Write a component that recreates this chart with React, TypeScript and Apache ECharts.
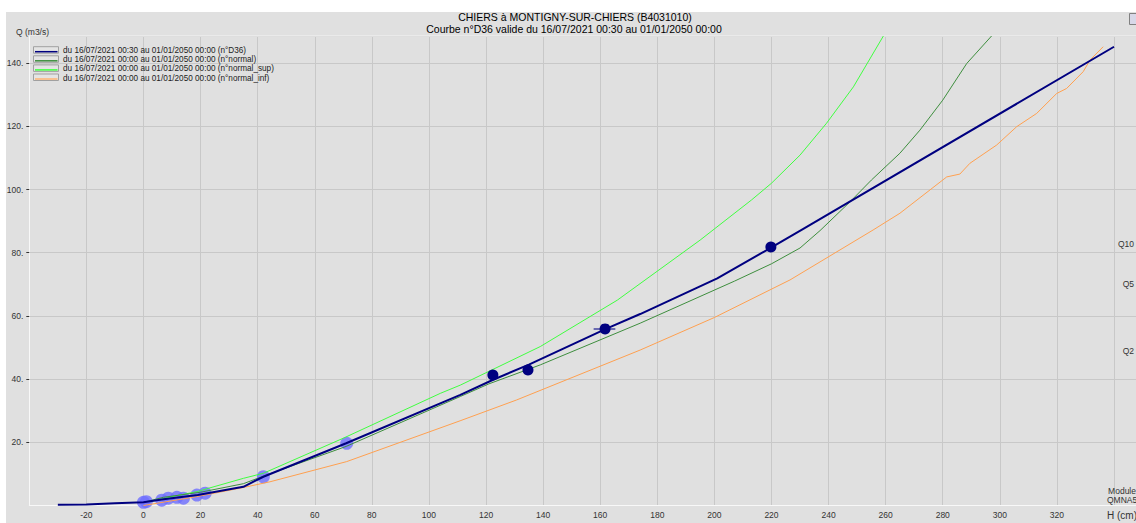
import React, { useEffect, useRef } from "react";
import * as echarts from "echarts";

// Rating curve n°D36 (navy)
const H_D36 = [-30, -20, -10, 0, 7, 19, 35, 42, 71, 111, 122.5, 135, 162, 174, 201, 220, 231, 340];
const Q_D36 = [0.2, 0.3, 0.7, 1.0, 2.0, 3.3, 5.9, 9.1, 19.7, 35.0, 39.8, 44.6, 55.9, 60.6, 71.9, 81.7, 87.5, 145.2];

// normal (dark green)
const H_NORMAL = [0, 7, 20, 35, 42, 71, 111, 121, 139, 174, 207, 220, 230, 237, 247.5, 255, 265, 272, 280, 288.4, 297.1];
const Q_NORMAL = [1.0, 2.6, 4.2, 6.9, 9.3, 18.7, 34.5, 38.5, 44.5, 57.7, 71.0, 76.5, 81.5, 87.0, 96.1, 103.0, 111.5, 118.8, 128.3, 139.9, 148.6];

// normal_sup (lime)
const H_SUP = [2.3, 10, 18.7, 35, 42, 70, 104, 111, 139, 166, 195, 213, 220, 230, 239.3, 248.7, 259.2];
const Q_SUP = [1.2, 2.8, 4.4, 8.6, 10.2, 21.3, 35.5, 38.1, 50.3, 65.0, 84.0, 96.7, 102.0, 110.9, 121.0, 132.5, 148.6];

// normal_inf (orange)
const H_INF = [0, 18.7, 35, 44.3, 71.2, 110.9, 130.7, 174, 200, 226.5, 255.6, 265, 281.4, 286, 289.5, 298.9, 305.9, 312.9, 319.9, 323.4, 329.2, 331.6, 336.2];
const Q_INF = [0.0, 2.8, 5.7, 7.5, 13.9, 26.8, 33.4, 49.2, 59.5, 71.4, 87.2, 92.5, 104.0, 104.9, 108.3, 114.1, 119.9, 124.1, 130.4, 132.0, 137.3, 141.0, 145.2];

// gaugings (light blue)
const H_GAUGE = [0, 1, 6.4, 8.7, 11.7, 14, 18.7, 21.6, 42, 71.2];
const Q_GAUGE = [1.0, 1.2, 1.7, 2.3, 2.6, 2.3, 3.3, 3.9, 9.1, 19.7];

// gaugings (navy)
const H_GAUGE2 = [122.4, 134.7, 161.7, 219.8];
const Q_GAUGE2 = [41.3, 42.9, 55.9, 81.8];

// uncertainty bar on one gauging
const H_BAR = [157.7, 165.3];
const Q_BAR = [55.9, 55.9];

const LEGEND_LABELS = [
  "du 16/07/2021 00:30 au 01/01/2050 00:00 (n°D36)",
  "du 16/07/2021 00:00 au 01/01/2050 00:00 (n°normal)",
  "du 16/07/2021 00:00 au 01/01/2050 00:00 (n°normal_sup)",
  "du 16/07/2021 00:00 au 01/01/2050 00:00 (n°normal_inf)",
];
const LEGEND_COLORS = ["#000080", "#3e8e3e", "#40ff40", "#f8c090"];

const TITLE1 = "CHIERS à MONTIGNY-SUR-CHIERS (B4031010)";
const TITLE2 = "Courbe n°D36 valide du 16/07/2021 00:30 au 01/01/2050 00:00";

const RIGHT_LABELS = ["Q10", "Q5", "Q2"];
const RIGHT_LABEL_Y = [244, 283.5, 351];

const zip = (a: number[], b: number[]) => a.map((v, i) => [v, b[i]]);

const FONT = "'Liberation Sans', Arial, sans-serif";

export default function App() {
  const ref = useRef<HTMLDivElement>(null);
  useEffect(() => {
    if (!ref.current) return;
    const chart = echarts.init(ref.current, null, { renderer: "svg" });

    const legendGraphics: any[] = [];
    LEGEND_LABELS.forEach((label, i) => {
      const cy = 50.7 + i * 9.1;
      legendGraphics.push({
        type: "rect",
        shape: { x: 33.5, y: cy - 4, width: 25, height: 6.5 },
        style: { fill: "#e4e4e4", stroke: "#a0a0a0", lineWidth: 1 },
        z: 10,
      });
      legendGraphics.push({
        type: "line",
        shape: { x1: 35, y1: cy + 1, x2: 57.5, y2: cy + 1 },
        style: { stroke: LEGEND_COLORS[i], lineWidth: i === 3 ? 2 : 1.5 },
        z: 11,
      });
      legendGraphics.push({
        type: "text",
        x: 63,
        y: cy,
        style: {
          text: label,
          font: `8.2px ${FONT}`,
          fill: "#222",
          textVerticalAlign: "middle",
        },
        z: 11,
      });
    });

    const option: any = {
      animation: false,
      backgroundColor: "#e0e0e0",
      grid: { left: 29.3, right: 0, top: 36, bottom: 17.5, containLabel: false },
      xAxis: {
        type: "value",
        min: -40,
        max: 347.7,
        interval: 20,
        axisLine: { show: true, onZero: false, lineStyle: { color: "#f8f8f8", width: 1 } },
        axisTick: { show: false },
        axisLabel: {
          margin: 5,
          fontSize: 8.5,
          fontFamily: FONT,
          color: "#333",
          showMinLabel: false,
          showMaxLabel: false,
          formatter: (v: number) => {
            const r = Math.round(v);
            if (Math.abs(v - r) > 1e-6) return "";
            if (r <= -40 || r >= 340) return "";
            return String(r);
          },
        },
        splitLine: { show: true, lineStyle: { color: "#c8c8c8", width: 1 } },
      },
      yAxis: {
        type: "value",
        min: 0,
        max: 148.6,
        interval: 20,
        axisLine: { show: true, onZero: false, lineStyle: { color: "#f8f8f8", width: 1 } },
        axisTick: { show: true, length: 3, lineStyle: { color: "#333" } },
        axisLabel: {
          margin: 6,
          fontSize: 8.5,
          fontFamily: FONT,
          color: "#333",
          showMinLabel: false,
          showMaxLabel: false,
          formatter: (v: number) => {
            const r = Math.round(v);
            if (Math.abs(v - r) > 1e-6 || r <= 0 || r % 20 !== 0) return "";
            return r + ".";
          },
        },
        splitLine: { show: true, lineStyle: { color: "#c8c8c8", width: 1 } },
      },
      graphic: [
        { type: "rect", shape: { x: 0, y: 0, width: 1136, height: 12 }, style: { fill: "#ffffff" }, z: 1 },
        { type: "rect", shape: { x: 0, y: 0, width: 6, height: 523 }, style: { fill: "#ffffff" }, z: 1 },
        { type: "line", shape: { x1: 29.3, y1: 36, x2: 1136, y2: 36 }, style: { stroke: "#f4f4f4", lineWidth: 1 }, z: 1 },
        {
          type: "text", x: 575, y: 17, z: 5,
          style: { text: TITLE1, font: `10.5px ${FONT}`, fill: "#000", textAlign: "center", textVerticalAlign: "middle" },
        },
        {
          type: "text", x: 574, y: 29.3, z: 5,
          style: { text: TITLE2, font: `10.5px ${FONT}`, fill: "#000", textAlign: "center", textVerticalAlign: "middle" },
        },
        {
          type: "text", x: 16, y: 31.5, z: 5,
          style: { text: "Q (m3/s)", font: `8.5px ${FONT}`, fill: "#333", textVerticalAlign: "middle" },
        },
        ...RIGHT_LABELS.map((t, i) => ({
          type: "text", x: 1134, y: RIGHT_LABEL_Y[i], z: 5,
          style: { text: t, font: `8.5px ${FONT}`, fill: "#333", textAlign: "right", textVerticalAlign: "middle" },
        })),
        {
          type: "text", x: 1136, y: 491, z: 5,
          style: { text: "Module", font: `8.5px ${FONT}`, fill: "#333", textAlign: "right", textVerticalAlign: "middle" },
        },
        {
          type: "text", x: 1107, y: 499.5, z: 5,
          style: { text: "QMNA5", font: `8.5px ${FONT}`, fill: "#333", textVerticalAlign: "middle" },
        },
        {
          type: "text", x: 1107, y: 515, z: 5,
          style: { text: "H (cm)", font: `10px ${FONT}`, fill: "#333", textVerticalAlign: "middle" },
        },
        { type: "rect", shape: { x: 1129.5, y: 13.5, width: 8, height: 11 }, style: { fill: "#d8d8e8", stroke: "#808080", lineWidth: 1 }, z: 5 },
        ...legendGraphics,
      ],
      series: [
        {
          name: "gaugings",
          type: "scatter",
          data: zip(H_GAUGE, Q_GAUGE),
          symbolSize: 13,
          itemStyle: { color: "rgba(110,110,255,0.8)", opacity: 1 },
          z: 1,
        },
        {
          name: "normal_inf",
          type: "line",
          data: zip(H_INF, Q_INF),
          showSymbol: false,
          lineStyle: { color: "#ffa050", width: 1 },
          z: 2,
        },
        {
          name: "normal_sup",
          type: "line",
          data: zip(H_SUP, Q_SUP),
          showSymbol: false,
          lineStyle: { color: "#40ff40", width: 1 },
          z: 2,
        },
        {
          name: "normal",
          type: "line",
          data: zip(H_NORMAL, Q_NORMAL),
          showSymbol: false,
          lineStyle: { color: "#3e8e3e", width: 1 },
          z: 2,
        },
        {
          name: "bar",
          type: "line",
          data: zip(H_BAR, Q_BAR),
          showSymbol: false,
          lineStyle: { color: "#6a6ab0", width: 2 },
          z: 3,
        },
        {
          name: "D36",
          type: "line",
          data: zip(H_D36, Q_D36),
          showSymbol: false,
          lineStyle: { color: "#000080", width: 2 },
          z: 4,
        },
        {
          name: "gaugings2",
          type: "scatter",
          data: zip(H_GAUGE2, Q_GAUGE2),
          symbolSize: 11,
          itemStyle: { color: "#000080", opacity: 1 },
          z: 5,
        },
      ],
    };
    chart.setOption(option);
    return () => chart.dispose();
  }, []);

  return (
    <div
      ref={ref}
      style={{ position: "absolute", left: 0, top: 0, width: 1136, height: 523 }}
    />
  );
}
